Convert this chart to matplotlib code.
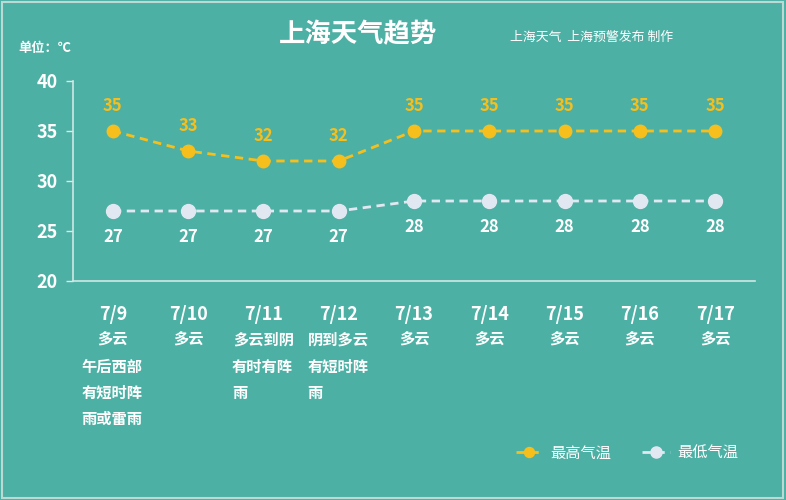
import matplotlib
matplotlib.use("Agg")
import matplotlib.pyplot as plt
import matplotlib.transforms as mtransforms
from matplotlib.patches import Rectangle

plt.rcParams['font.family'] = ['Noto Sans CJK SC', 'DejaVu Sans']

# data
dates = ['7/9', '7/10', '7/11', '7/12', '7/13', '7/14', '7/15', '7/16', '7/17']
weather_main = ['多云', '多云', '多云到阴', '阴到多云', '多云', '多云', '多云', '多云', '多云']
weather_extra = [['午后西部', '有短时阵', '雨或雷雨'], [], ['有时有阵', '雨'], ['有短时阵', '雨'],
                 [], [], [], [], []]
temp_high = [35, 33, 32, 32, 35, 35, 35, 35, 35]
temp_low = [27, 27, 27, 27, 28, 28, 28, 28, 28]

bg = '#4db0a4'
yellow = '#f6bf1c'
pale = '#e2e8f2'
white = '#ffffff'

fig = plt.figure(figsize=(7.86, 5.0), dpi=100, facecolor=bg)
fig.patches.append(Rectangle((0.002, 0.004), 0.994, 0.992, transform=fig.transFigure,
                             fill=False, edgecolor='#bcd9d4', linewidth=1.5))

ax = fig.add_axes([73 / 786, 1 - 281 / 500, (755 - 73) / 786, 200 / 500])
ax.set_facecolor(bg)

x = list(range(len(dates)))

# lines
ax.plot(x, temp_high, color=yellow, linestyle=(0, (3, 2)), linewidth=2,
        marker='o', markersize=9, markerfacecolor=yellow, markeredgecolor=yellow,
        label='最高气温', zorder=3)
ax.plot(x, temp_low, color=pale, linestyle=(0, (3, 2)), linewidth=2,
        marker='o', markersize=10, markerfacecolor=pale, markeredgecolor=pale,
        label='最低气温', zorder=3)

# value labels
for xi, v in zip(x, temp_high):
    ax.annotate(str(v), (xi, v), xytext=(0, 18), textcoords='offset points',
                ha='center', va='center', color=yellow, fontsize=12, fontweight='bold')
for xi, v in zip(x, temp_low):
    ax.annotate(str(v), (xi, v), xytext=(0, -19), textcoords='offset points',
                ha='center', va='center', color=white, fontsize=12, fontweight='bold')

ax.set_xlim(-0.53, 8.53)
ax.set_ylim(20, 40)
ax.set_yticks([20, 25, 30, 35, 40])
ax.set_xticks([])
ax.tick_params(axis='y', colors='#d6ece8', length=5, width=1, labelsize=13,
               labelcolor=white, pad=6)
for lbl in ax.get_yticklabels():
    lbl.set_fontweight('bold')
for side in ['top', 'right']:
    ax.spines[side].set_visible(False)
for side in ['left', 'bottom']:
    ax.spines[side].set_color('#cfe8e4')
    ax.spines[side].set_linewidth(1.2)

# category labels below the axis
tr = mtransforms.blended_transform_factory(ax.transData, fig.transFigure)
for xi, d, wm, we in zip(x, dates, weather_main, weather_extra):
    ax.text(xi, 1 - 315 / 500, d, transform=tr, ha='center', va='center',
            color=white, fontsize=13, fontweight='bold')
    ax.text(xi, 1 - 340 / 500, wm, transform=tr, ha='center', va='center',
            color=white, fontsize=11, fontweight='bold')
    if we:
        block_w = max(len(s) for s in we)
        for k, s in enumerate(we):
            ax.text(xi - block_w * 0.105, 1 - (367 + 26 * k) / 500, s, transform=tr,
                    ha='left', va='center', color=white, fontsize=11, fontweight='bold')

# title and notes
fig.text(358 / 786, 1 - 35 / 500, '上海天气趋势', ha='center', va='center',
         color=white, fontsize=19, fontweight='bold')
fig.text(510 / 786, 1 - 37 / 500, '上海天气  上海预警发布 制作', ha='left', va='center',
         color=white, fontsize=9.3)
fig.text(18 / 786, 1 - 48 / 500, '单位：℃', ha='left', va='center',
         color=white, fontsize=9.5, fontweight='bold')

leg = ax.legend(loc='center', bbox_to_anchor=(627 / 786, 1 - 453 / 500),
                bbox_transform=fig.transFigure, ncol=2, frameon=False,
                handlelength=1.8, handletextpad=0.5, columnspacing=2.0,
                fontsize=11, labelcolor=white, markerscale=0.8)

fig.savefig('out.png', dpi=100, facecolor=bg)
